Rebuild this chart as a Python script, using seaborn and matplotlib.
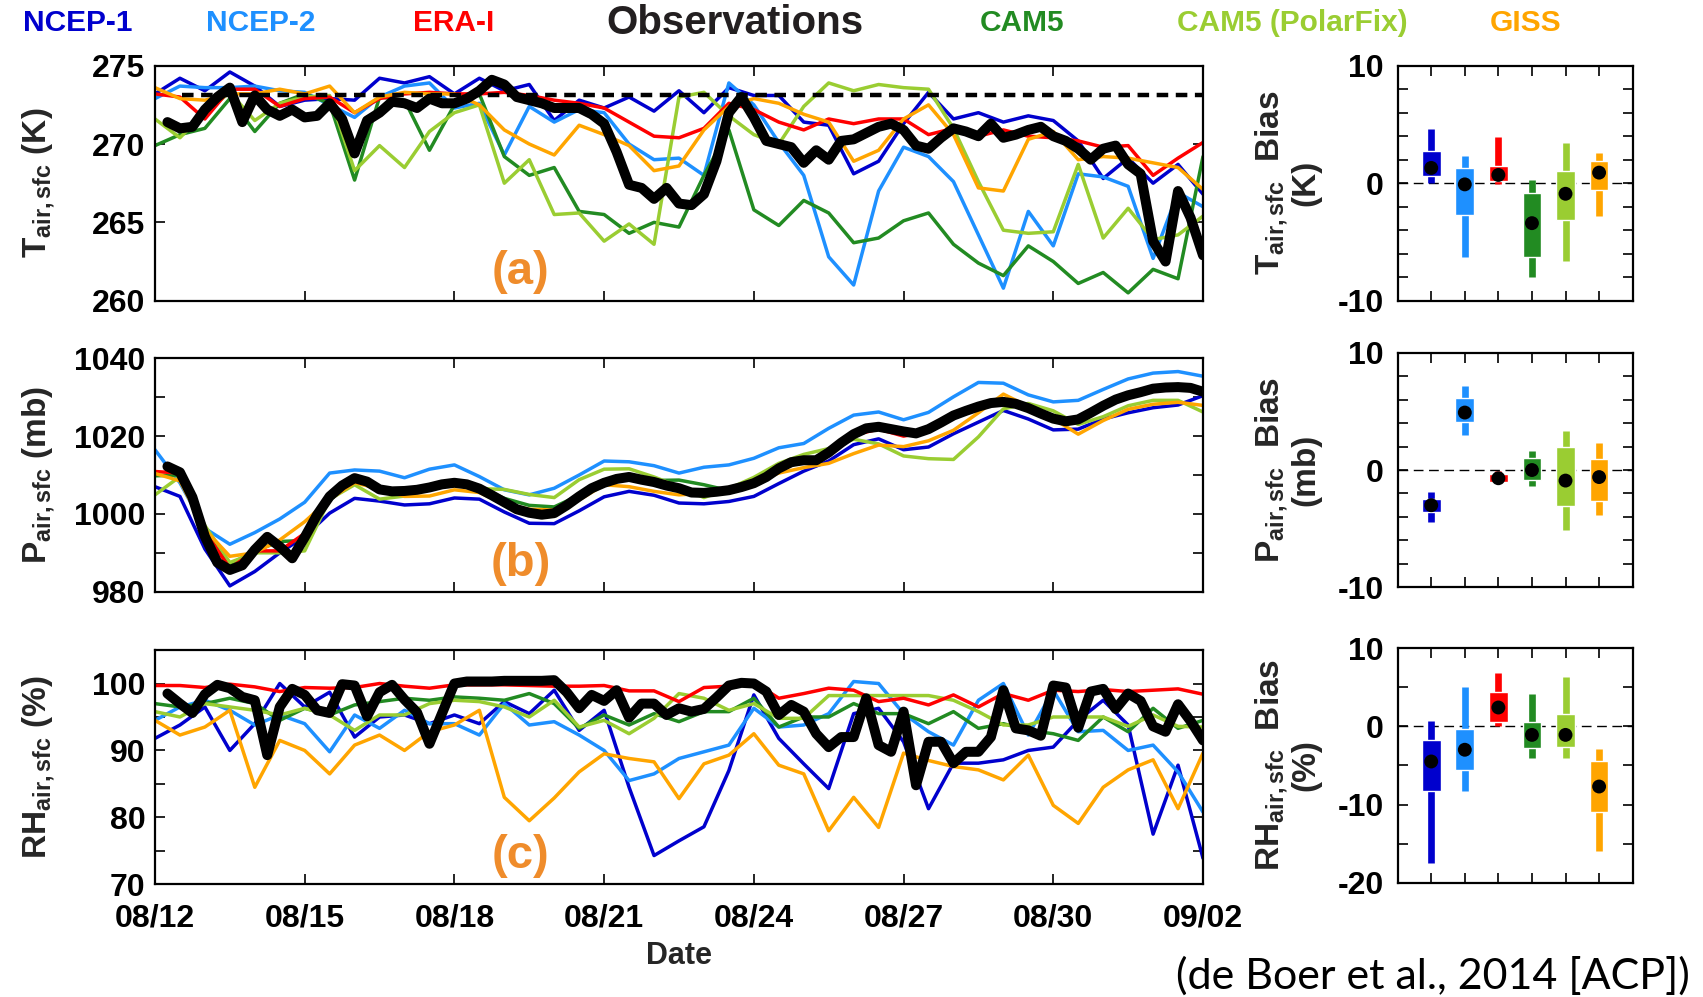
import numpy as np
import pandas as pd
import matplotlib
matplotlib.use("Agg")
import matplotlib.pyplot as plt
import seaborn as sns

# ---- time axes (days since 08/12) ----
days = np.arange(0, 21.01, 0.5)        # reanalyses / models, 12-hourly
obs_days = np.arange(0, 21.01, 0.25)   # observations, 6-hourly
date_ticks = [0, 3, 6, 9, 12, 15, 18, 21]
date_labels = ["08/12", "08/15", "08/18", "08/21", "08/24", "08/27", "08/30", "09/02"]

sources = ["NCEP-1", "NCEP-2", "ERA-I", "CAM5", "CAM5 (PolarFix)", "GISS"]
colors = {
    "NCEP-1": "#0000CD",
    "NCEP-2": "#1E90FF",
    "ERA-I": "#FF0000",
    "CAM5": "#228B22",
    "CAM5 (PolarFix)": "#9ACD32",
    "GISS": "#FFA500",
}
draw_order = ["NCEP-1", "NCEP-2", "CAM5", "CAM5 (PolarFix)", "ERA-I", "GISS"]

# ---- (a) surface air temperature (K) ----
t_ncep1 = [273.2, 274.2, 273.4, 274.6, 273.7, 272.4, 272.8, 272.9, 272.8, 274.2, 273.9,
           274.3, 273.2, 274.2, 273.4, 273.8, 271.5, 272.8, 272.3, 273.0, 272.1, 273.4,
           272.0, 273.6, 273.1, 273.1, 271.4, 271.2, 268.1, 268.9, 271.3, 273.3, 271.6,
           272.0, 271.4, 271.8, 271.5, 270.2, 267.8, 269.1, 267.5, 268.7, 266.8]
t_ncep2 = [272.9, 273.7, 273.6, 273.6, 273.7, 273.4, 273.3, 272.5, 271.7, 273.0, 273.7,
           273.9, 272.3, 272.6, 269.3, 272.4, 271.4, 272.2, 272.0, 270.0, 269.0, 269.1,
           268.0, 273.9, 272.5, 270.1, 268.0, 262.8, 261.0, 267.0, 269.8, 269.2, 267.6,
           264.2, 260.8, 265.7, 263.5, 268.1, 267.9, 267.3, 262.7, 266.9, 266.0]
t_era = [273.2, 273.0, 271.6, 273.5, 273.5, 272.4, 272.9, 273.0, 272.0, 272.9, 273.2,
         273.3, 273.2, 273.2, 273.3, 273.1, 272.8, 272.6, 272.3, 271.4, 270.5, 270.4,
         271.0, 272.6, 272.2, 271.4, 270.9, 271.6, 271.3, 271.6, 271.6, 270.6, 271.0,
         270.5, 270.9, 270.5, 270.4, 270.2, 269.8, 269.9, 268.0, 269.1, 270.1]
t_cam5 = [269.9, 270.6, 271.0, 272.9, 270.8, 272.6, 273.2, 272.6, 267.7, 273.0, 272.8,
          269.6, 272.5, 273.2, 269.2, 268.0, 268.5, 265.7, 265.5, 264.3, 265.0, 264.7,
          268.0, 270.9, 265.8, 264.8, 266.4, 265.6, 263.7, 264.0, 265.1, 265.6, 263.6,
          262.4, 261.6, 263.5, 262.5, 261.1, 261.8, 260.5, 262.0, 261.4, 269.2]
t_polar = [271.6, 270.4, 272.0, 273.3, 271.5, 272.6, 273.0, 273.1, 268.3, 269.9, 268.5,
           270.8, 272.0, 272.5, 267.5, 269.0, 265.5, 265.6, 263.8, 264.9, 263.6, 273.0,
           273.3, 271.8, 270.6, 270.0, 272.4, 273.9, 273.4, 273.8, 273.6, 273.5, 271.0,
           267.6, 264.5, 264.3, 264.4, 268.7, 264.0, 265.9, 263.9, 264.2, 265.4]
t_giss = [273.6, 272.9, 272.8, 273.2, 273.2, 273.5, 273.2, 273.7, 272.0, 273.0, 273.3,
          273.2, 273.2, 272.5, 270.9, 270.0, 269.3, 271.2, 270.6, 269.9, 268.3, 268.6,
          270.9, 272.4, 272.9, 272.6, 271.9, 271.4, 268.9, 269.6, 271.6, 272.5, 270.6,
          267.2, 267.0, 270.3, 270.8, 269.0, 269.2, 269.1, 268.8, 268.5, 267.1]
t_obs = [np.nan, 271.4, 271.0, 271.1, 272.2, 273.0, 273.6, 271.4, 273.1, 272.2, 271.8,
         272.2, 271.7, 271.8, 272.6, 271.6, 269.4, 271.5, 272.0, 272.7, 272.6, 272.3,
         272.9, 272.6, 272.6, 272.9, 273.4, 274.1, 273.8, 273.0, 272.8, 272.6, 272.3,
         272.3, 272.3, 271.9, 271.3, 269.5, 267.4, 267.2, 266.5, 267.2, 266.2,
         266.1, 266.8, 268.9, 272.0, 273.0, 271.7, 270.2, 270.0, 269.8, 268.8, 269.6,
         269.0, 270.2, 270.3, 270.7, 271.1, 271.3, 270.9, 269.9, 269.7, 270.4, 271.0,
         270.8, 270.5, 271.3, 270.4, 270.6, 270.9, 271.1, 270.5, 270.2, 269.7, 269.0,
         269.7, 269.9, 268.7, 268.1, 263.8, 262.5, 267.0, 265.3, 262.9]
freezing_k = 273.15

# ---- (b) surface pressure (mb) ----
p_ncep1 = [1007.0, 1004.5, 991.0, 981.5, 985.2, 990.0, 994.2, 1000.2, 1004.0, 1003.3, 1002.3,
           1002.6, 1004.1, 1003.8, 1000.5, 997.6, 997.5, 1000.8, 1004.4, 1005.8, 1004.8, 1002.8,
           1002.6, 1003.2, 1004.5, 1007.8, 1011.0, 1013.6, 1017.8, 1019.3, 1016.5, 1017.2, 1020.6,
           1023.6, 1026.6, 1024.4, 1021.6, 1021.8, 1024.4, 1026.0, 1027.3, 1028.0, 1030.4]
p_ncep2 = [1016.5, 1008.0, 996.3, 992.2, 995.2, 998.7, 1003.0, 1010.5, 1011.3, 1011.0, 1009.3,
           1011.5, 1012.6, 1009.6, 1006.2, 1004.9, 1006.6, 1010.0, 1013.6, 1013.4, 1012.4, 1010.5,
           1012.0, 1012.6, 1014.3, 1017.0, 1018.1, 1022.0, 1025.4, 1026.2, 1024.2, 1026.1, 1030.1,
           1033.8, 1033.6, 1030.6, 1028.8, 1029.2, 1032.0, 1034.7, 1036.2, 1036.6, 1035.4]
p_era = [1010.9, 1010.5, 995.5, 986.0, 990.5, 990.5, 995.0, 1004.0, 1009.0, 1006.3, 1005.3,
         1006.4, 1007.8, 1006.3, 1002.8, 1000.3, 1000.0, 1004.3, 1007.9, 1009.3, 1008.0, 1006.4,
         1005.2, 1005.9, 1007.5, 1011.6, 1013.5, 1015.5, 1020.3, 1021.8, 1020.0, 1021.2, 1025.0,
         1027.3, 1028.5, 1026.9, 1024.3, 1024.1, 1027.5, 1030.2, 1031.9, 1032.3, 1031.0]
p_cam5 = [1009.8, 1010.0, 996.5, 987.0, 990.5, 992.9, 993.2, 1003.5, 1008.8, 1006.8, 1006.0,
          1006.5, 1008.0, 1006.8, 1004.0, 1002.2, 1001.8, 1004.8, 1008.3, 1009.0, 1008.6, 1008.7,
          1007.5, 1006.0, 1007.8, 1011.5, 1013.5, 1015.5, 1020.5, 1022.0, 1021.0, 1021.5, 1025.0,
          1027.5, 1028.5, 1027.4, 1025.0, 1024.3, 1027.5, 1030.8, 1032.5, 1033.3, 1032.0]
p_polar = [1004.9, 1009.6, 997.0, 987.5, 990.0, 990.0, 990.5, 1003.8, 1007.5, 1003.8, 1004.6,
           1006.6, 1007.8, 1006.5, 1006.3, 1005.0, 1004.2, 1008.8, 1011.5, 1011.6, 1009.5, 1007.0,
           1004.2, 1006.5, 1009.4, 1013.0, 1015.3, 1016.8, 1019.2, 1018.0, 1014.9, 1014.2, 1014.0,
           1019.8, 1027.0, 1028.4, 1026.5, 1023.0, 1025.0, 1027.8, 1029.2, 1029.2, 1026.2]
p_giss = [1010.4, 1008.5, 996.0, 989.1, 990.0, 993.3, 998.0, 1003.8, 1008.0, 1006.5, 1004.5,
          1004.6, 1006.2, 1005.5, 1002.6, 1001.2, 1001.0, 1003.6, 1007.5, 1007.0, 1005.8, 1004.9,
          1005.3, 1006.8, 1008.3, 1010.5, 1011.9, 1013.0, 1015.5, 1017.7, 1017.3, 1018.8, 1021.5,
          1026.0, 1030.8, 1027.6, 1024.5, 1020.5, 1024.0, 1026.9, 1028.2, 1028.7, 1027.9]
p_obs = [np.nan, 1012.2, 1010.7, 1004.3, 994.2, 987.5, 985.6, 986.8, 990.8, 994.1, 991.6,
         988.6, 994.0, 999.8, 1004.5, 1007.3, 1009.2, 1008.3, 1006.3, 1005.8, 1005.9, 1006.2,
         1006.8, 1007.6, 1008.0, 1007.6, 1006.5, 1004.8, 1003.0, 1001.2, 1000.3, 999.8, 1000.2,
         1002.2, 1004.5, 1006.6, 1008.0, 1009.0, 1009.5, 1008.8, 1008.2, 1007.3, 1006.6,
         1005.5, 1005.4, 1005.7, 1006.1, 1006.9, 1007.9, 1009.5, 1011.7, 1013.3, 1013.8, 1013.8,
         1015.8, 1018.3, 1020.5, 1022.0, 1022.4, 1021.8, 1021.2, 1020.7, 1021.8, 1023.5, 1025.3,
         1026.5, 1027.6, 1028.5, 1028.8, 1028.3, 1027.2, 1025.8, 1024.5, 1023.8, 1024.3, 1026.0,
         1027.8, 1029.4, 1030.5, 1031.3, 1032.2, 1032.5, 1032.6, 1032.4, 1031.4]

# ---- (c) surface relative humidity (%) ----
rh_ncep1 = [91.8, 93.8, 96.5, 90.0, 94.0, 100.0, 96.5, 98.7, 92.0, 95.0, 95.3,
            94.0, 95.3, 94.0, 97.3, 95.5, 99.0, 93.0, 96.0, 84.5, 74.3, 76.5,
            78.6, 87.0, 98.3, 91.8, 88.0, 84.3, 95.5, 96.3, 91.3, 81.3, 88.1,
            88.1, 88.6, 90.0, 90.5, 94.5, 97.5, 93.8, 77.5, 87.8, 73.9]
rh_ncep2 = [94.5, 96.5, 97.5, 96.0, 93.8, 95.3, 94.0, 89.8, 95.3, 93.3, 96.0,
            94.0, 94.0, 92.3, 97.0, 93.8, 94.3, 92.3, 90.0, 85.5, 86.5, 88.8,
            89.8, 90.8, 96.3, 93.5, 93.8, 95.5, 100.3, 100.0, 95.5, 92.8, 90.8,
            97.5, 100.0, 92.3, 99.0, 92.8, 93.0, 90.0, 90.8, 86.8, 80.8]
rh_era = [99.7, 99.7, 99.4, 99.9, 99.5, 98.8, 99.4, 99.3, 99.4, 100.0, 99.6,
          99.3, 99.8, 99.8, 99.8, 99.7, 99.6, 99.6, 99.7, 98.9, 98.9, 97.3,
          99.4, 99.6, 100.2, 97.8, 98.5, 99.3, 99.0, 97.3, 97.8, 96.8, 98.3,
          96.5, 98.5, 97.5, 99.0, 98.8, 99.1, 98.8, 99.0, 99.2, 98.4]
rh_cam5 = [97.0, 96.5, 97.0, 97.8, 97.0, 94.5, 96.3, 95.3, 96.8, 97.3, 97.8,
           97.5, 98.0, 97.8, 97.5, 98.5, 97.0, 93.3, 95.3, 93.8, 95.5, 94.3,
           95.8, 95.8, 97.8, 93.5, 95.0, 95.0, 97.0, 95.5, 95.5, 94.0, 95.8,
           93.3, 94.0, 93.0, 92.5, 91.5, 95.0, 92.8, 96.3, 93.3, 94.5]
rh_polar = [95.8, 95.0, 97.0, 96.5, 96.0, 95.3, 96.3, 95.3, 93.0, 95.3, 95.3,
            97.0, 97.5, 97.3, 96.5, 95.0, 97.5, 93.5, 94.5, 92.5, 94.8, 98.5,
            97.8, 96.0, 97.0, 94.8, 94.8, 98.2, 98.2, 98.2, 98.2, 98.2, 97.5,
            95.8, 93.8, 93.8, 95.0, 95.0, 95.0, 93.6, 95.3, 93.6, 93.5]
rh_giss = [94.5, 92.3, 93.5, 96.0, 84.5, 91.5, 90.0, 86.5, 90.8, 92.3, 90.0,
           92.8, 93.8, 96.0, 83.0, 79.5, 82.9, 86.8, 89.5, 88.8, 88.3, 82.8,
           88.0, 89.3, 92.5, 87.8, 86.5, 78.0, 83.0, 78.5, 89.6, 88.5, 87.6,
           87.1, 85.6, 89.3, 81.8, 79.1, 84.5, 87.1, 88.6, 81.3, 89.6]
rh_obs = [np.nan, 98.5, 97.0, 95.6, 98.4, 99.8, 99.3, 98.0, 97.5, 89.3, 96.5,
          99.2, 98.3, 96.0, 95.6, 99.9, 99.7, 95.1, 98.7, 99.8, 97.6, 95.7,
          91.0, 95.5, 100.0, 100.3, 100.3, 100.3, 100.4, 100.4, 100.4, 100.4, 100.5,
          98.7, 96.3, 98.3, 97.4, 99.0, 94.9, 97.0, 97.0, 95.3, 96.3,
          95.8, 96.2, 97.9, 99.7, 100.1, 100.0, 98.8, 95.3, 96.8, 95.8, 92.5,
          90.5, 92.0, 92.0, 97.8, 90.8, 89.8, 95.8, 84.8, 91.3, 91.3, 88.1,
          89.8, 89.8, 92.0, 99.0, 93.3, 93.0, 92.2, 99.7, 99.4, 93.4, 98.8,
          99.2, 96.2, 98.5, 97.4, 93.6, 92.8, 96.9, 94.4, 91.5]

# ---- bias statistics (order of `sources`) ----
t_bias_lo = [0.0, -6.3, -0.1, -8.0, -6.6, -2.8]
t_bias_q1 = [0.6, -2.7, 0.15, -6.3, -3.1, -0.6]
t_bias_med = [1.3, -0.1, 0.7, -3.4, -0.9, 0.9]
t_bias_q3 = [2.7, 1.3, 1.5, -0.8, 1.0, 1.9]
t_bias_hi = [4.6, 2.3, 3.9, 0.25, 3.4, 2.6]

p_bias_lo = [-4.4, 3.0, -1.1, -1.35, -5.1, -3.8]
p_bias_q1 = [-3.6, 4.1, -1.05, -0.85, -3.05, -2.65]
p_bias_med = [-3.0, 4.9, -0.7, 0.0, -0.9, -0.6]
p_bias_q3 = [-2.5, 6.1, -0.35, 1.0, 2.0, 0.9]
p_bias_hi = [-1.9, 7.2, -0.05, 1.65, 3.35, 2.3]

rh_bias_lo = [-17.5, -8.3, 0.0, -4.1, -4.0, -16.0]
rh_bias_q1 = [-8.3, -5.6, 0.6, -2.8, -2.6, -11.0]
rh_bias_med = [-4.5, -3.0, 2.4, -1.1, -1.1, -7.7]
rh_bias_q3 = [-1.7, -0.4, 4.4, 0.6, 1.6, -4.5]
rh_bias_hi = [0.7, 5.0, 6.8, 4.1, 6.3, -2.9]

LABEL_ORANGE = "#EF8C2B"


def style_axes(ax):
    for sp in ax.spines.values():
        sp.set_linewidth(1.6)
        sp.set_color("black")
    ax.tick_params(direction="in", length=7, width=1.2, top=True, right=True,
                   labelsize=23, colors="black")
    ax.set_facecolor("white")
    ax.grid(False)


def draw_timeseries(ax, series, obs, ylim, yticks, ylabeled, ylabel, tag, last=False):
    for name in draw_order:
        sns.lineplot(x=days, y=series[name], color=colors[name], linewidth=2.5,
                     estimator=None, sort=False, legend=False, ax=ax)
    sns.lineplot(x=obs_days, y=obs, color="black", linewidth=7.2, estimator=None,
                 sort=False, legend=False, ax=ax, zorder=10)
    ax.set_xlim(0, 21)
    ax.set_ylim(*ylim)
    style_axes(ax)
    ax.set_yticks(yticks)
    ax.set_yticklabels([str(v) if v in ylabeled else "" for v in yticks])
    ax.tick_params(axis="y", pad=7)
    ax.set_xticks(date_ticks)
    if last:
        ax.set_xticklabels(date_labels)
        ax.tick_params(axis="x", pad=14)
        ax.set_xlabel("Date", fontsize=22, labelpad=5)
    else:
        ax.set_xticklabels([])
        ax.set_xlabel("")
    ax.set_ylabel(ylabel, fontsize=24)
    ax.yaxis.set_label_coords(-0.0935, 0.5)
    ax.text(0.349, 0.12, tag, transform=ax.transAxes, ha="center", va="center",
            fontsize=34, color=LABEL_ORANGE, fontweight="bold")


def draw_bias(ax, lo, q1, med, q3, hi, ylim, yticks, ylabeled, ylabel):
    pos = np.arange(1, len(sources) + 1)
    cols = [colors[s] for s in sources]
    ax.axhline(0, color="black", lw=1.0, dashes=(7, 4), zorder=1)
    ax.vlines(pos, lo, hi, colors=cols, lw=4.8, zorder=2)
    ax.bar(pos, np.array(q3) - np.array(q1), bottom=q1, width=0.56, color=cols, zorder=3)
    sns.scatterplot(x=pos, y=med, color="black", s=100, edgecolor="none",
                    legend=False, ax=ax, zorder=4)
    ax.set_xlim(0, len(sources) + 1)
    ax.set_ylim(*ylim)
    style_axes(ax)
    ax.set_xticks(pos)
    ax.set_xticklabels([])
    ax.set_yticks(yticks)
    ax.set_yticklabels([str(v) if v in ylabeled else "" for v in yticks])
    ax.tick_params(axis="y", pad=10)
    ax.set_xlabel("")
    ax.set_ylabel(ylabel, fontsize=24, linespacing=1.0)
    ax.yaxis.set_label_coords(-0.326, 0.5)


sns.set_theme(style="ticks")
plt.rcParams["font.family"] = ["Liberation Sans", "DejaVu Sans"]
plt.rcParams["font.weight"] = "bold"
plt.rcParams["axes.labelweight"] = "bold"
plt.rcParams["mathtext.fontset"] = "custom"
plt.rcParams["mathtext.rm"] = "Liberation Sans:bold"
plt.rcParams["mathtext.it"] = "Liberation Sans:bold"
plt.rcParams["mathtext.bf"] = "Liberation Sans:bold"
plt.rcParams["mathtext.default"] = "rm"

fig = plt.figure(figsize=(17.03, 9.97), dpi=100)
fig.patch.set_facecolor("white")

ax_t = fig.add_axes([0.0910, 0.6984, 0.6154, 0.2357])
ax_p = fig.add_axes([0.0910, 0.4065, 0.6154, 0.2341])
ax_rh = fig.add_axes([0.0910, 0.1130, 0.6154, 0.2350])
bx_t = fig.add_axes([0.8207, 0.6984, 0.1380, 0.2357])
bx_p = fig.add_axes([0.8207, 0.4109, 0.1380, 0.2353])
bx_rh = fig.add_axes([0.8207, 0.1146, 0.1380, 0.2354])

t_series = {"NCEP-1": t_ncep1, "NCEP-2": t_ncep2, "ERA-I": t_era, "CAM5": t_cam5,
            "CAM5 (PolarFix)": t_polar, "GISS": t_giss}
p_series = {"NCEP-1": p_ncep1, "NCEP-2": p_ncep2, "ERA-I": p_era, "CAM5": p_cam5,
            "CAM5 (PolarFix)": p_polar, "GISS": p_giss}
rh_series = {"NCEP-1": rh_ncep1, "NCEP-2": rh_ncep2, "ERA-I": rh_era, "CAM5": rh_cam5,
             "CAM5 (PolarFix)": rh_polar, "GISS": rh_giss}

draw_timeseries(ax_t, t_series, t_obs, (260, 275), [260, 265, 270, 275],
                [260, 265, 270, 275], r"T$_{air,sfc}$ (K)", "(a)")
ax_t.hlines(freezing_k, 0.55, 21, colors="black", lw=3.2, linestyles=(0, (2.6, 1.7)), zorder=9)

draw_timeseries(ax_p, p_series, p_obs, (980, 1040), list(range(980, 1041, 10)),
                [980, 1000, 1020, 1040], r"P$_{air,sfc}$ (mb)", "(b)")
draw_timeseries(ax_rh, rh_series, rh_obs, (70, 105), list(range(70, 101, 5)),
                [70, 80, 90, 100], r"RH$_{air,sfc}$ (%)", "(c)", last=True)

draw_bias(bx_t, t_bias_lo, t_bias_q1, t_bias_med, t_bias_q3, t_bias_hi, (-10, 10),
          list(range(-10, 11, 2)), [-10, 0, 10], "T$_{air,sfc}$  Bias\n(K)")
draw_bias(bx_p, p_bias_lo, p_bias_q1, p_bias_med, p_bias_q3, p_bias_hi, (-10, 10),
          list(range(-10, 11, 2)), [-10, 0, 10], "P$_{air,sfc}$  Bias\n(mb)")
draw_bias(bx_rh, rh_bias_lo, rh_bias_q1, rh_bias_med, rh_bias_q3, rh_bias_hi, (-20, 10),
          list(range(-20, 11, 5)), [-20, -10, 0, 10], "RH$_{air,sfc}$  Bias\n(%)")

# colour-coded legend across the top
legend_x = [0.0458, 0.1533, 0.2663, 0.4316, 0.600, 0.759, 0.896]
legend_names = ["NCEP-1", "NCEP-2", "ERA-I", "Observations", "CAM5", "CAM5 (PolarFix)", "GISS"]
for x, name in zip(legend_x, legend_names):
    if name == "Observations":
        fig.text(x, 0.9774, name, ha="center", va="center", fontsize=29,
                 fontweight="bold", color="#231F20")
    else:
        fig.text(x, 0.9774, name, ha="center", va="center", fontsize=21.5,
                 fontweight="bold", color=colors[name])

fig.text(0.992, 0.021, "(de Boer et al., 2014 [ACP])", ha="right", va="center",
         fontsize=31, fontweight="normal", family=["Lato", "DejaVu Sans"], color="black")

fig.savefig("out.png", dpi=100, facecolor="white")
